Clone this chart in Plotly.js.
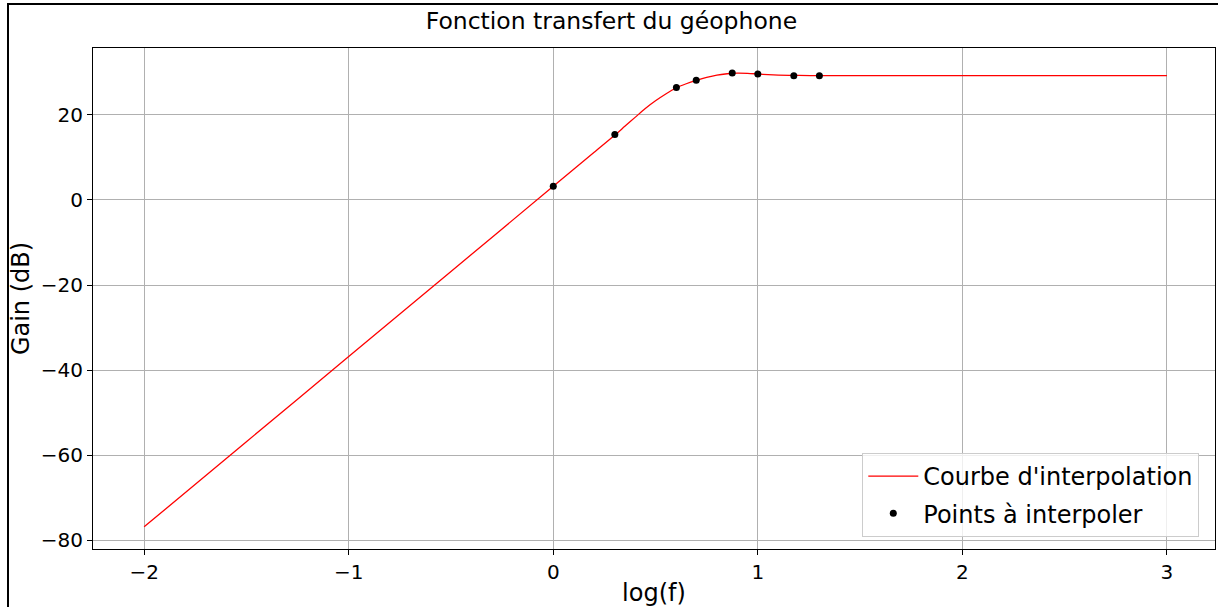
<!DOCTYPE html>
<html>
<head>
<meta charset="utf-8">
<script src="https://cdn.plot.ly/plotly-3.0.1.min.js"></script>
<style>
  html, body { margin: 0; padding: 0; background: #fff; }
  #wrap { position: relative; width: 1218px; height: 607px; overflow: hidden; }
  #chart { position: absolute; left: 0; top: 0; width: 1218px; height: 607px; }
  #frame { position: absolute; left: 7px; top: 3px; width: 1300px; height: 700px;
           border-left: 2px solid #000; border-top: 2px solid #000; pointer-events: none; }
</style>
</head>
<body>
<div id="wrap">
  <div id="chart"></div>
  <div id="frame"></div>
</div>
<script>
// Measured points: log10 of frequency (Hz) and gain in dB
const pointsLogF = [0, 0.301, 0.602, 0.699, 0.875, 1.0, 1.176, 1.301];
const pointsGain = [3.2, 15.4, 26.4, 28.1, 29.8, 29.6, 29.2, 29.2];

// Interpolation curve samples
const curveLogF = [-2, -1.5, -1, -0.5, 0, 0.1, 0.2, 0.3, 0.35, 0.4, 0.45, 0.5, 0.55, 0.6,
                   0.65, 0.7, 0.75, 0.8, 0.85, 0.9, 0.95, 1.0, 1.05, 1.1, 1.2, 1.3, 1.5, 2.0, 2.5, 3.0];
const curveGain = [-76.8, -56.8, -36.8, -16.8, 3.2, 7.2, 11.2, 15.2, 17.3, 19.4, 21.5, 23.3, 24.9, 26.3,
                   27.3, 28.1, 28.8, 29.35, 29.65, 29.8, 29.75, 29.6, 29.45, 29.35, 29.25, 29.2, 29.2, 29.2, 29.2, 29.2];

const xTicks = [-2, -1, 0, 1, 2, 3];
const yTicks = [-80, -60, -40, -20, 0, 20];

const FONT = 'DejaVu Sans, sans-serif';

const traces = [
  {
    x: curveLogF, y: curveGain,
    type: 'scatter', mode: 'lines',
    name: "Courbe d'interpolation",
    legendgroup: 'curve',
    line: { color: '#ff0000', width: 1.3, shape: 'spline', smoothing: 0.8 }
  },
  {
    x: pointsLogF, y: pointsGain,
    type: 'scatter', mode: 'markers',
    name: 'Points à interpoler',
    legendgroup: 'points',
    marker: { color: '#000', size: 7 }
  }
];

const axisCommon = {
  showline: true, mirror: true, linecolor: '#000', linewidth: 1,
  ticks: 'outside', ticklen: 5, tickcolor: '#000', tickwidth: 1,
  showgrid: true, gridcolor: '#b0b0b0', gridwidth: 1,
  zeroline: false,
  tickfont: { family: FONT, size: 20, color: '#000' }
};

const layout = {
  width: 1218, height: 607,
  paper_bgcolor: 'rgba(0,0,0,0)', plot_bgcolor: '#fff',
  margin: { l: 93, r: 3, t: 48, b: 58 },
  font: { family: FONT, color: '#000' },
  title: {
    text: 'Fonction transfert du géophone',
    font: { family: FONT, size: 23.5, color: '#000' },
    xref: 'container', x: 0.502, xanchor: 'center',
    yref: 'container', y: 0.965, yanchor: 'middle'
  },
  xaxis: Object.assign({}, axisCommon, {
    range: [-2.25, 3.235],
    tickvals: xTicks,
    title: { text: 'log(f)', font: { family: FONT, size: 24, color: '#000' }, standoff: 6 }
  }),
  yaxis: Object.assign({}, axisCommon, {
    range: [-82.0, 35.7],
    tickvals: yTicks,
    title: { text: 'Gain (dB)', font: { family: FONT, size: 24, color: '#000' }, standoff: 4 }
  }),
  showlegend: true,
  legend: {
    x: 0.986, xanchor: 'right', y: 0.024, yanchor: 'bottom',
    bgcolor: 'rgba(255,255,255,0.8)', bordercolor: '#cccccc', borderwidth: 1,
    font: { family: FONT, size: 24, color: '#000' },
    tracegroupgap: 3,
    itemwidth: 50
  }
};

Plotly.newPlot('chart', traces, layout, { displayModeBar: false, staticPlot: true });
</script>
</body>
</html>
